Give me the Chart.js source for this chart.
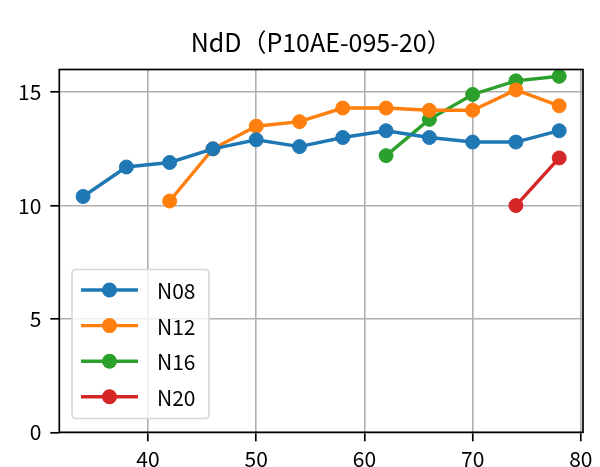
<!DOCTYPE html>
<html>
<head>
<meta charset="utf-8">
<script src="https://cdn.jsdelivr.net/npm/chart.js@4/dist/chart.umd.min.js"></script>
<style>
  html, body { margin: 0; padding: 0; background: #ffffff; }
  #wrap { width: 600px; height: 467px; }
</style>
</head>
<body>
<div id="wrap"><canvas id="c" width="600" height="467"></canvas></div>
<script>
const chartTitle = "NdD（P10AE-095-20）";
const ages = [34, 38, 42, 46, 50, 54, 58, 62, 66, 70, 74, 78];
const seriesNames = ["N08", "N12", "N16", "N20"];
const N08 = [10.4, 11.7, 11.9, 12.5, 12.9, 12.6, 13.0, 13.3, 13.0, 12.8, 12.8, 13.3];
const N12 = [null, null, 10.2, 12.5, 13.5, 13.7, 14.3, 14.3, 14.2, 14.2, 15.1, 14.4];
const N16 = [null, null, null, null, null, null, null, 12.2, 13.8, 14.9, 15.5, 15.7];
const N20 = [null, null, null, null, null, null, null, null, null, null, 10.0, 12.1];
const xTicks = [40, 50, 60, 70, 80];
const yTicks = [0, 5, 10, 15];
const colors = ["#1f77b4", "#ff7f0e", "#2ca02c", "#d62728"];

const FONT = "'Noto Sans CJK JP', 'Noto Sans', sans-serif";

function toPoints(vals) {
  const pts = [];
  vals.forEach((v, i) => { if (v !== null) pts.push({ x: ages[i], y: v }); });
  return pts;
}

const datasets = [N08, N12, N16, N20].map((vals, i) => ({
  label: seriesNames[i],
  data: toPoints(vals),
  borderColor: colors[i],
  backgroundColor: colors[i],
  pointBackgroundColor: colors[i],
  pointBorderColor: colors[i],
  borderWidth: 3.4,
  pointRadius: 7,
  pointHoverRadius: 7,
  pointBorderWidth: 1,
  tension: 0,
  fill: false,
  clip: false
}));

const framePlugin = {
  id: 'frame',
  afterDatasetsDraw(chart) {
    const ctx = chart.ctx, a = chart.chartArea;
    ctx.save();
    ctx.strokeStyle = '#000';
    ctx.lineWidth = 1.7;
    ctx.strokeRect(a.left, a.top, a.right - a.left, a.bottom - a.top);
    ctx.restore();

    const lx = 72, ly = 269.5, lw = 137, lh = 149;
    ctx.save();
    ctx.beginPath();
    const r = 4;
    ctx.moveTo(lx + r, ly);
    ctx.lineTo(lx + lw - r, ly);
    ctx.quadraticCurveTo(lx + lw, ly, lx + lw, ly + r);
    ctx.lineTo(lx + lw, ly + lh - r);
    ctx.quadraticCurveTo(lx + lw, ly + lh, lx + lw - r, ly + lh);
    ctx.lineTo(lx + r, ly + lh);
    ctx.quadraticCurveTo(lx, ly + lh, lx, ly + lh - r);
    ctx.lineTo(lx, ly + r);
    ctx.quadraticCurveTo(lx, ly, lx + r, ly);
    ctx.closePath();
    ctx.fillStyle = 'rgba(255,255,255,0.8)';
    ctx.fill();
    ctx.strokeStyle = '#d6d6d6';
    ctx.lineWidth = 1.6;
    ctx.stroke();
    chart.data.datasets.forEach((ds, i) => {
      const y = 290 + i * 35.6;
      ctx.strokeStyle = ds.borderColor;
      ctx.lineWidth = 3.4;
      ctx.beginPath();
      ctx.moveTo(81, y);
      ctx.lineTo(138, y);
      ctx.stroke();
      ctx.fillStyle = ds.borderColor;
      ctx.beginPath();
      ctx.arc(109.5, y, 7.5, 0, Math.PI * 2);
      ctx.fill();
      ctx.fillStyle = '#000';
      ctx.font = "21px " + FONT;
      ctx.textAlign = 'left';
      ctx.textBaseline = 'middle';
      ctx.fillText(ds.label, 157, y + 1);
    });
    ctx.restore();
  }
};

new Chart(document.getElementById('c'), {
  type: 'line',
  data: { datasets },
  options: {
    responsive: false,
    animation: false,
    devicePixelRatio: 1,
    layout: { padding: { left: 0, right: 17, top: 0, bottom: 0 } },
    plugins: {
      legend: { display: false },
      tooltip: { enabled: false },
      title: {
        display: true,
        text: chartTitle,
        fullSize: false,
        color: '#000',
        font: { family: FONT, size: 25, weight: 'normal' },
        padding: { top: 27.5, bottom: 12 }
      }
    },
    scales: {
      x: {
        type: 'linear',
        min: 31.8,
        max: 80.2,
        afterBuildTicks: (s) => { s.ticks = xTicks.map(v => ({ value: v })); },
        afterFit: (s) => { s.height = 34.7; },
        ticks: {
          color: '#000',
          font: { family: FONT, size: 21 },
          padding: 5,
          maxRotation: 0,
          autoSkip: false
        },
        grid: {
          color: '#b0b0b0',
          lineWidth: 1.6,
          drawTicks: true,
          tickLength: 9,
          tickColor: '#000',
          tickWidth: 1.7
        },
        border: { display: false }
      },
      y: {
        type: 'linear',
        min: 0,
        max: 16,
        afterBuildTicks: (s) => { s.ticks = yTicks.map(v => ({ value: v })); },
        afterFit: (s) => { s.width = 59.3; },
        ticks: {
          color: '#000',
          font: { family: FONT, size: 21 },
          padding: 9,
          autoSkip: false
        },
        grid: {
          color: '#b0b0b0',
          lineWidth: 1.6,
          drawTicks: true,
          tickLength: 9,
          tickColor: '#000',
          tickWidth: 1.7
        },
        border: { display: false }
      }
    }
  },
  plugins: [framePlugin]
});
</script>
</body>
</html>
